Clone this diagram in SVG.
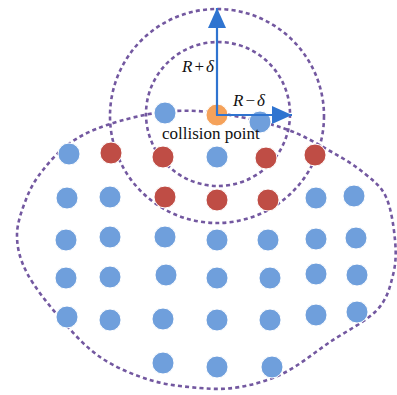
<svg xmlns="http://www.w3.org/2000/svg" width="397" height="395" viewBox="0 0 397 395">
<defs>
<style>
.dash{fill:none;stroke:#7358a0;stroke-width:2.6;stroke-dasharray:4 3.2}
.b{fill:#6f9fdc;stroke:#fff;stroke-width:1}
.r{fill:#bf4d45;stroke:#fff;stroke-width:1}
.o{fill:#f5a25a;stroke:#fff;stroke-width:1}
.ar{stroke:#2f74d0;stroke-width:2.2;fill:none}
.t{font-size:17px;fill:#111}
.i{font-style:italic}
</style>
<marker id="ah" viewBox="0 0 20 18" refX="20" refY="9" markerWidth="20" markerHeight="18" markerUnits="userSpaceOnUse" orient="auto">
<path d="M0,0 L20,9 L0,18 Z" fill="#2f74d0"/>
</marker>
</defs>
<rect width="397" height="395" fill="#fff"/>
<g id="regions">
<circle class="dash" cx="217" cy="116" r="107"/>
<circle class="dash" cx="218" cy="114" r="72"/>
<path class="dash" d="M163,112 C181.3,110 197,110.3 217,113 C237,115.7 264.2,121.7 283,128 C301.8,134.3 316.5,143.5 330,151 C343.5,158.5 354.7,165.3 364,173 C373.3,180.7 380.8,185.8 386,197 C391.2,208.2 393.8,227 395,240 C396.2,253 396,263.3 393,275 C390,286.7 387.5,298.8 377,310 C366.5,321.2 345.5,331.5 330,342 C314.5,352.5 299,365.5 284,373 C269,380.5 254,384.5 240,387 C226,389.5 215,389.2 200,388 C185,386.8 166.7,385.2 150,380 C133.3,374.8 115,367.3 100,357 C85,346.7 72.2,332 60,318 C47.8,304 34.2,286.8 27,273 C19.8,259.2 17,247.7 17,235 C17,222.3 22.7,207.8 27,197 C31.3,186.2 35.8,179 43,170 C50.2,161 59.3,150.5 70,143 C80.7,135.5 91.5,130.2 107,125 C122.5,119.8 144.7,114 163,112 Z"/>
</g>
<g id="points">
<circle id="p-a1" class="b" cx="165" cy="113" r="11"/>
<circle id="collision" class="o" cx="217" cy="115" r="11"/>
<circle id="p-a3" class="b" cx="260" cy="122" r="11"/>

<circle id="p-b1" class="b" cx="69" cy="154" r="11"/>
<circle id="p-b2" class="r" cx="111" cy="153" r="11"/>
<circle id="p-b3" class="r" cx="163" cy="157" r="11"/>
<circle id="p-b4" class="b" cx="217" cy="157" r="11"/>
<circle id="p-b5" class="r" cx="266" cy="158" r="11"/>
<circle id="p-b6" class="r" cx="315" cy="155" r="11"/>

<circle id="p-c1" class="b" cx="67" cy="198" r="11"/>
<circle id="p-c2" class="b" cx="110" cy="197" r="11"/>
<circle id="p-c3" class="r" cx="165" cy="197" r="11"/>
<circle id="p-c4" class="r" cx="217" cy="200" r="11"/>
<circle id="p-c5" class="r" cx="268" cy="200" r="11"/>
<circle id="p-c6" class="b" cx="316" cy="198" r="11"/>
<circle id="p-c7" class="b" cx="354" cy="196" r="11"/>

<circle id="p-d1" class="b" cx="66" cy="240" r="11"/>
<circle id="p-d2" class="b" cx="110" cy="237" r="11"/>
<circle id="p-d3" class="b" cx="165" cy="237" r="11"/>
<circle id="p-d4" class="b" cx="217" cy="240" r="11"/>
<circle id="p-d5" class="b" cx="268" cy="240" r="11"/>
<circle id="p-d6" class="b" cx="316" cy="239" r="11"/>
<circle id="p-d7" class="b" cx="356" cy="238" r="11"/>

<circle id="p-e1" class="b" cx="66" cy="278" r="11"/>
<circle id="p-e2" class="b" cx="110" cy="277" r="11"/>
<circle id="p-e3" class="b" cx="166" cy="275" r="11"/>
<circle id="p-e4" class="b" cx="217" cy="278" r="11"/>
<circle id="p-e5" class="b" cx="270" cy="278" r="11"/>
<circle id="p-e6" class="b" cx="316" cy="274" r="11"/>
<circle id="p-e7" class="b" cx="357" cy="275" r="11"/>

<circle id="p-f1" class="b" cx="67" cy="317" r="11"/>
<circle id="p-f2" class="b" cx="110" cy="320" r="11"/>
<circle id="p-f3" class="b" cx="163" cy="319" r="11"/>
<circle id="p-f4" class="b" cx="217" cy="320" r="11"/>
<circle id="p-f5" class="b" cx="270" cy="320" r="11"/>
<circle id="p-f6" class="b" cx="316" cy="315" r="11"/>
<circle id="p-f7" class="b" cx="357" cy="312" r="11"/>

<circle id="p-g1" class="b" cx="163" cy="363" r="11"/>
<circle id="p-g2" class="b" cx="217" cy="367" r="11"/>
<circle id="p-g3" class="b" cx="272" cy="367" r="11"/>
</g>
<g id="connectors">
<line class="ar" x1="217" y1="115" x2="217" y2="8" marker-end="url(#ah)"/>
<line class="ar" x1="216" y1="115" x2="292" y2="115" marker-end="url(#ah)"/>
</g>
<g id="labels" font-family="'Liberation Serif', 'Times New Roman', serif">
<text class="t" x="182" y="72"><tspan class="i">R</tspan><tspan dx="2">+</tspan><tspan class="i" dx="2">δ</tspan></text>
<text class="t" x="233" y="106"><tspan class="i">R</tspan><tspan dx="2">−</tspan><tspan class="i" dx="2">δ</tspan></text>
<text class="t" x="162" y="139">collision point</text>
</g>
</svg>
